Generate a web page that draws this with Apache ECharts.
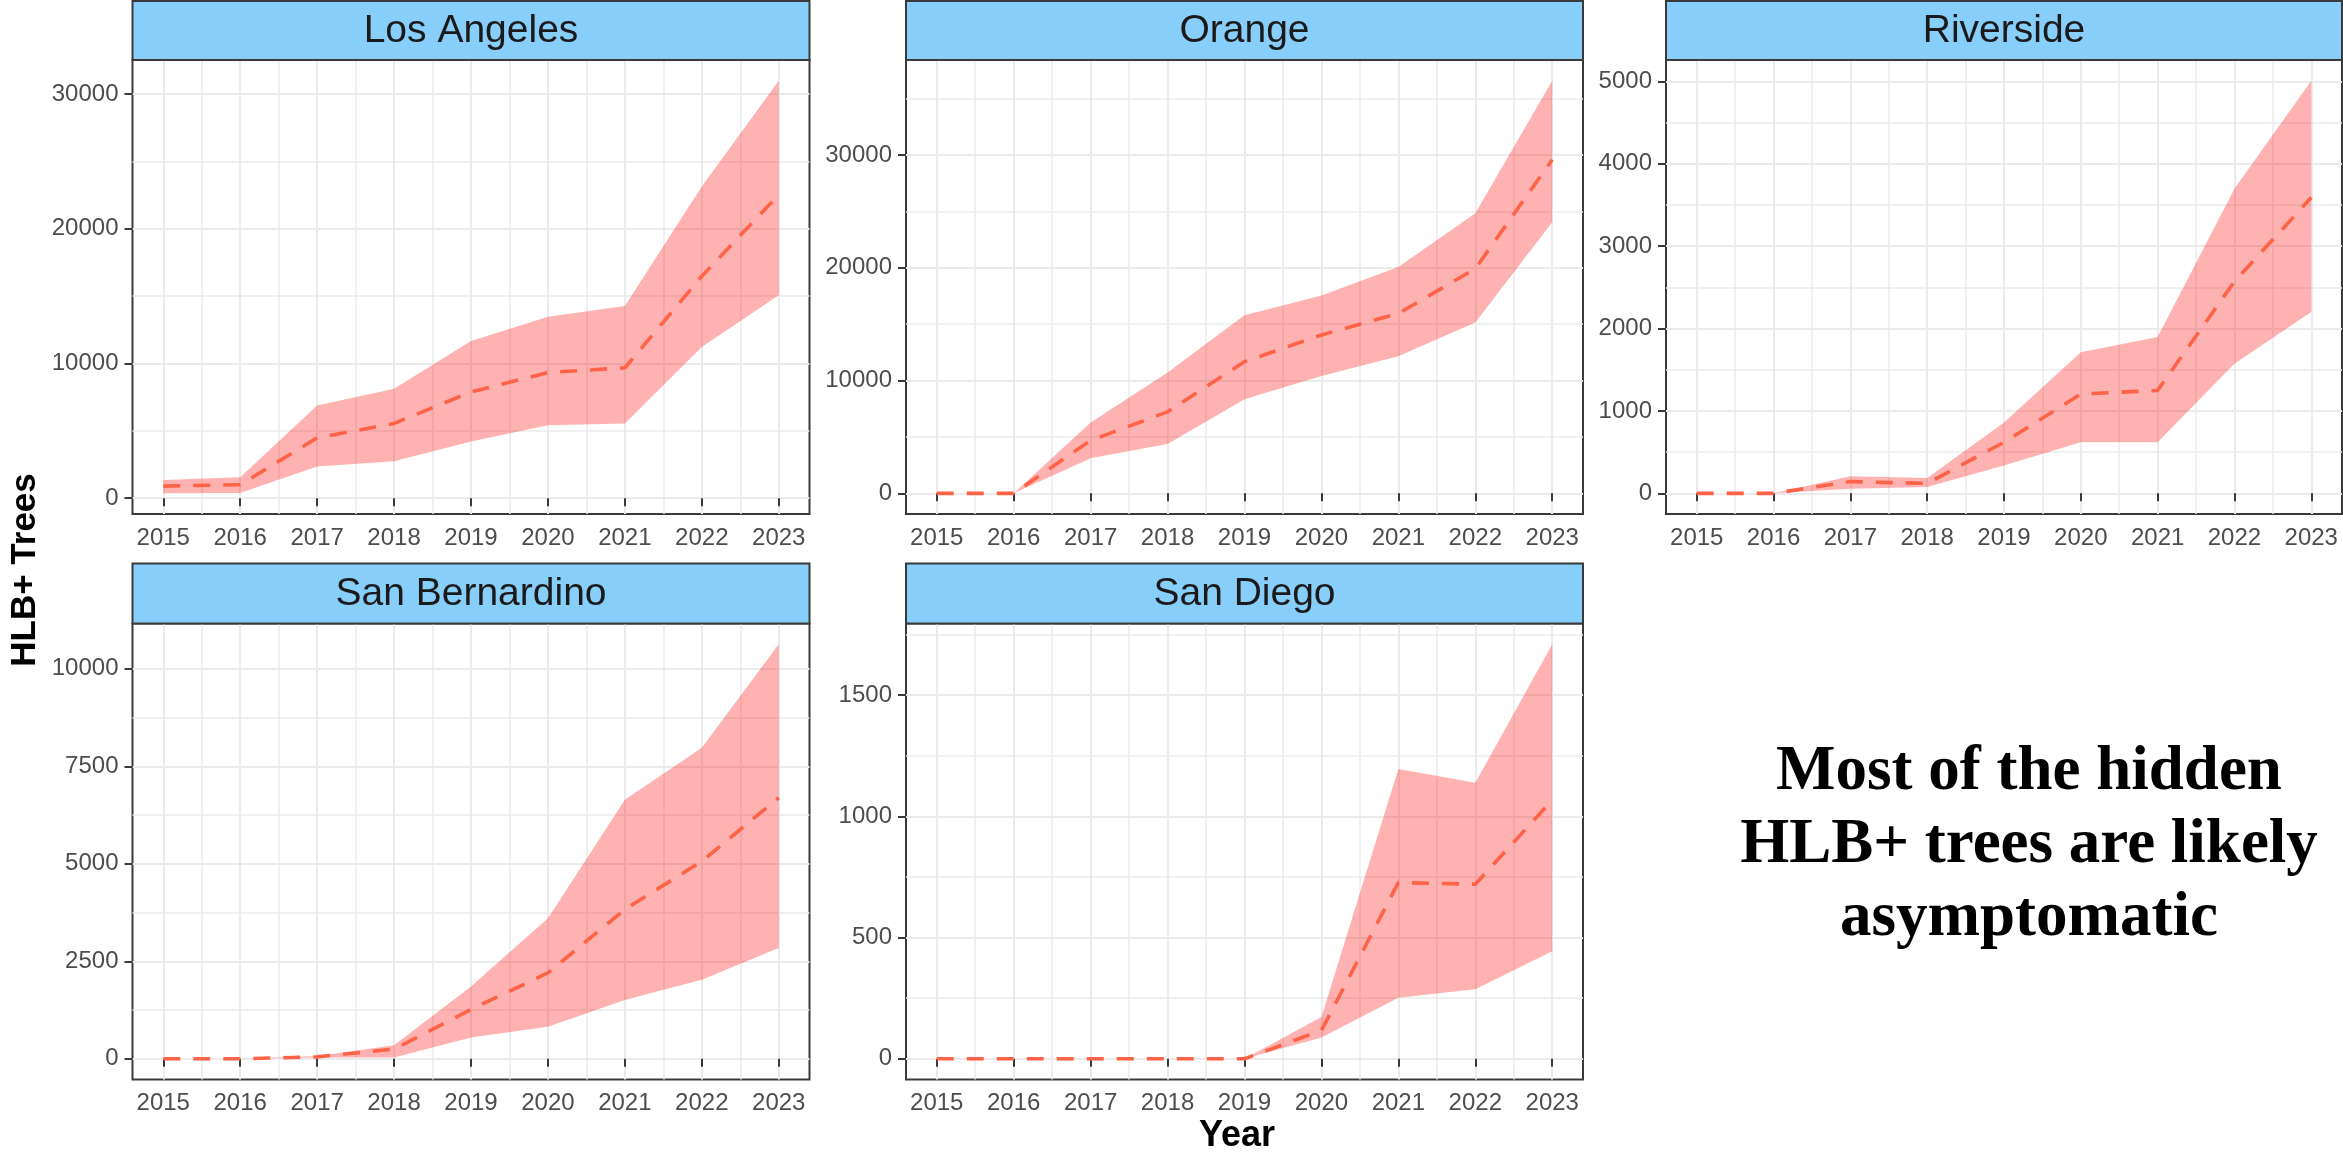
<!DOCTYPE html>
<html>
<head>
<meta charset="utf-8">
<title>HLB+ Trees by County</title>
<script src="https://cdn.jsdelivr.net/npm/echarts@6/dist/echarts.min.js"></script>
<style>
  html, body { margin: 0; padding: 0; background: #ffffff; }
  #chart { width: 2343px; height: 1153px; }
</style>
</head>
<body>
<div id="chart"></div>
<script>
// Years on the x axis (shared by every county panel)
const years = [2015, 2016, 2017, 2018, 2019, 2020, 2021, 2022, 2023];
const yearMinorBreaks = [2015.5, 2016.5, 2017.5, 2018.5, 2019.5, 2020.5, 2021.5, 2022.5];

const counties = ['Los Angeles', 'Orange', 'Riverside', 'San Bernardino', 'San Diego'];

// Estimated HLB+ trees: mean (dashed line) and interval bounds (ribbon)
const laMean  = [900, 1000, 4480, 5550, 7890, 9330, 9680, 16480, 22530];
const laLower = [360, 390, 2350, 2750, 4210, 5410, 5550, 11230, 15070];
const laUpper = [1360, 1550, 6880, 8130, 11680, 13470, 14270, 23150, 31000];

const orMean  = [0, 0, 4690, 7230, 11670, 14050, 15950, 19920, 29590];
const orLower = [0, 0, 3110, 4380, 8340, 10400, 12150, 15160, 24040];
const orUpper = [0, 0, 6280, 10720, 15800, 17540, 20080, 24830, 36600];

const rvMean  = [0, 0, 143, 121, 620, 1206, 1249, 2572, 3591];
const rvLower = [0, 0, 56, 78, 338, 620, 620, 1574, 2203];
const rvUpper = [0, 0, 208, 186, 859, 1713, 1899, 3699, 5010];

const sbMean  = [0, 0, 49, 247, 1264, 2201, 3830, 5064, 6693];
const sbLower = [0, 0, 30, 30, 543, 819, 1510, 2024, 2843];
const sbUpper = [0, 0, 70, 345, 1856, 3603, 6644, 7976, 10630];

const sdMean  = [0, 0, 0, 0, 0, 117, 727, 720, 1067];
const sdLower = [0, 0, 0, 0, 0, 88, 252, 287, 444];
const sdUpper = [0, 0, 0, 0, 0, 172, 1195, 1139, 1710];

// Tick labels (major breaks) and minor grid breaks of each county's y axis
const laBreaks = [0, 10000, 20000, 30000];
const laMinor  = [5000, 15000, 25000];
const orBreaks = [0, 10000, 20000, 30000];
const orMinor  = [5000, 15000, 25000, 35000];
const rvBreaks = [0, 1000, 2000, 3000, 4000, 5000];
const rvMinor  = [500, 1500, 2500, 3500, 4500];
const sbBreaks = [0, 2500, 5000, 7500, 10000];
const sbMinor  = [1250, 3750, 6250, 8750];
const sdBreaks = [0, 500, 1000, 1500];
const sdMinor  = [250, 750, 1250, 1750];

const panelData = [
  { mean: laMean, lower: laLower, upper: laUpper, breaks: laBreaks, minor: laMinor },
  { mean: orMean, lower: orLower, upper: orUpper, breaks: orBreaks, minor: orMinor },
  { mean: rvMean, lower: rvLower, upper: rvUpper, breaks: rvBreaks, minor: rvMinor },
  { mean: sbMean, lower: sbLower, upper: sbUpper, breaks: sbBreaks, minor: sbMinor },
  { mean: sdMean, lower: sdLower, upper: sdUpper, breaks: sdBreaks, minor: sdMinor }
];

const annotation = 'Most of the hidden\nHLB+ trees are likely\nasymptomatic';

// ---- layout of the facet panels ----
const cols = [
  { left: 132.5, width: 677 },
  { left: 906, width: 677 },
  { left: 1666, width: 676 }
];
const rows = [
  { stripTop: 1, top: 60, height: 454 },
  { stripTop: 563.5, top: 623.5, height: 456 }
];
const panelPos = [
  [0, 0], [0, 1], [0, 2],
  [1, 0], [1, 1]
];

const SANS = 'Liberation Sans, Arial, Helvetica, sans-serif';
const BORDER = '#3a3a3a';
const GRID_LINE = '#EBEBEB';
const TICK_TEXT = '#4D4D4D';

// ggplot-style continuous scale expansion (5% on each side)
function expand(lo, hi) {
  const pad = (hi - lo) * 0.05;
  return [lo - pad, hi + pad];
}
const xRange = expand(Math.min(...years), Math.max(...years));

const grids = [], xAxes = [], yAxes = [], series = [], graphics = [];

panelData.forEach((p, i) => {
  const [r, c] = panelPos[i];
  const col = cols[c], row = rows[r];

  grids.push({
    left: col.left, top: row.top, width: col.width, height: row.height,
    show: true, backgroundColor: '#ffffff', borderColor: BORDER, borderWidth: 2,
    containLabel: false, outerBoundsMode: 'none'
  });

  const all = p.mean.concat(p.lower, p.upper);
  const yRange = expand(Math.min(...all), Math.max(...all));

  // major x axis (ticks, labels, major grid)
  xAxes.push({
    gridIndex: i, type: 'value', min: xRange[0], max: xRange[1],
    axisLine: { show: false },
    axisTick: { show: true, length: 8, customValues: years, lineStyle: { color: BORDER, width: 2 } },
    axisLabel: { show: true, customValues: years, formatter: v => String(v),
      color: TICK_TEXT, fontSize: 24, fontFamily: SANS, margin: 12 },
    splitLine: { show: true, lineStyle: { color: GRID_LINE, width: 2 } }
  });
  // minor x grid
  xAxes.push({
    gridIndex: i, type: 'value', min: xRange[0], max: xRange[1],
    axisLine: { show: false },
    axisTick: { show: false, customValues: yearMinorBreaks },
    axisLabel: { show: false },
    splitLine: { show: true, lineStyle: { color: GRID_LINE, width: 1.5 } }
  });
  // major y axis
  yAxes.push({
    gridIndex: i, type: 'value', min: yRange[0], max: yRange[1],
    axisLine: { show: false },
    axisTick: { show: true, length: 8, customValues: p.breaks, lineStyle: { color: BORDER, width: 2 } },
    axisLabel: { show: true, customValues: p.breaks, formatter: v => String(v),
      color: TICK_TEXT, fontSize: 24, fontFamily: SANS, margin: 14 },
    splitLine: { show: true, lineStyle: { color: GRID_LINE, width: 2 } }
  });
  // minor y grid
  yAxes.push({
    gridIndex: i, type: 'value', min: yRange[0], max: yRange[1],
    axisLine: { show: false },
    axisTick: { show: false, customValues: p.minor },
    axisLabel: { show: false },
    splitLine: { show: true, lineStyle: { color: GRID_LINE, width: 1.5 } }
  });

  // interval ribbon between lower and upper bounds
  series.push({
    type: 'custom',
    xAxisIndex: 2 * i, yAxisIndex: 2 * i,
    data: years.map((y, k) => [y, p.lower[k], p.upper[k]]),
    silent: true,
    z: 2,
    renderItem: function (params, api) {
      if (params.dataIndex !== 0) return null;
      const top = years.map((y, k) => api.coord([y, p.upper[k]]));
      const bottom = years.map((y, k) => api.coord([y, p.lower[k]])).reverse();
      return {
        type: 'polygon',
        shape: { points: top.concat(bottom) },
        style: { fill: 'rgba(255, 0, 0, 0.3)', stroke: null }
      };
    }
  });

  // mean estimate, dashed
  series.push({
    type: 'line',
    xAxisIndex: 2 * i, yAxisIndex: 2 * i,
    data: years.map((y, k) => [y, p.mean[k]]),
    showSymbol: false, symbol: 'none', silent: true,
    z: 3,
    lineStyle: { color: '#FF6347', width: 3.6, type: [17, 13] }
  });

  // facet strip with county name
  graphics.push({
    type: 'rect',
    shape: { x: col.left, y: row.stripTop, width: col.width, height: row.top - row.stripTop },
    style: { fill: '#87CEFA', stroke: BORDER, lineWidth: 2 },
    z: 10
  });
  graphics.push({
    type: 'text',
    x: col.left + col.width / 2,
    y: (row.stripTop + row.top) / 2 + 1,
    style: {
      text: counties[i], fill: '#1A1A1A', font: '39px ' + SANS,
      textAlign: 'center', textVerticalAlign: 'middle'
    },
    z: 11
  });
});

// axis titles
graphics.push({
  type: 'text',
  x: 25, y: 570, rotation: Math.PI / 2,
  style: {
    text: 'HLB+ Trees', fill: '#000000', font: 'bold 35px ' + SANS,
    textAlign: 'center', textVerticalAlign: 'middle'
  }
});
graphics.push({
  type: 'text',
  x: 1237, y: 1136,
  style: {
    text: 'Year', fill: '#000000', font: 'bold 36px ' + SANS,
    textAlign: 'center', textVerticalAlign: 'middle'
  }
});

// annotation text in the empty facet slot
graphics.push({
  type: 'text',
  x: 2029, y: 846,
  style: {
    text: annotation, fill: '#000000',
    font: 'bold 63px "Liberation Serif", "Times New Roman", serif',
    lineHeight: 73, textAlign: 'center', textVerticalAlign: 'middle'
  }
});

const chart = echarts.init(document.getElementById('chart'), null, { renderer: 'canvas' });
chart.setOption({
  animation: false,
  backgroundColor: '#ffffff',
  grid: grids,
  xAxis: xAxes,
  yAxis: yAxes,
  series: series,
  graphic: graphics
});
</script>
</body>
</html>
